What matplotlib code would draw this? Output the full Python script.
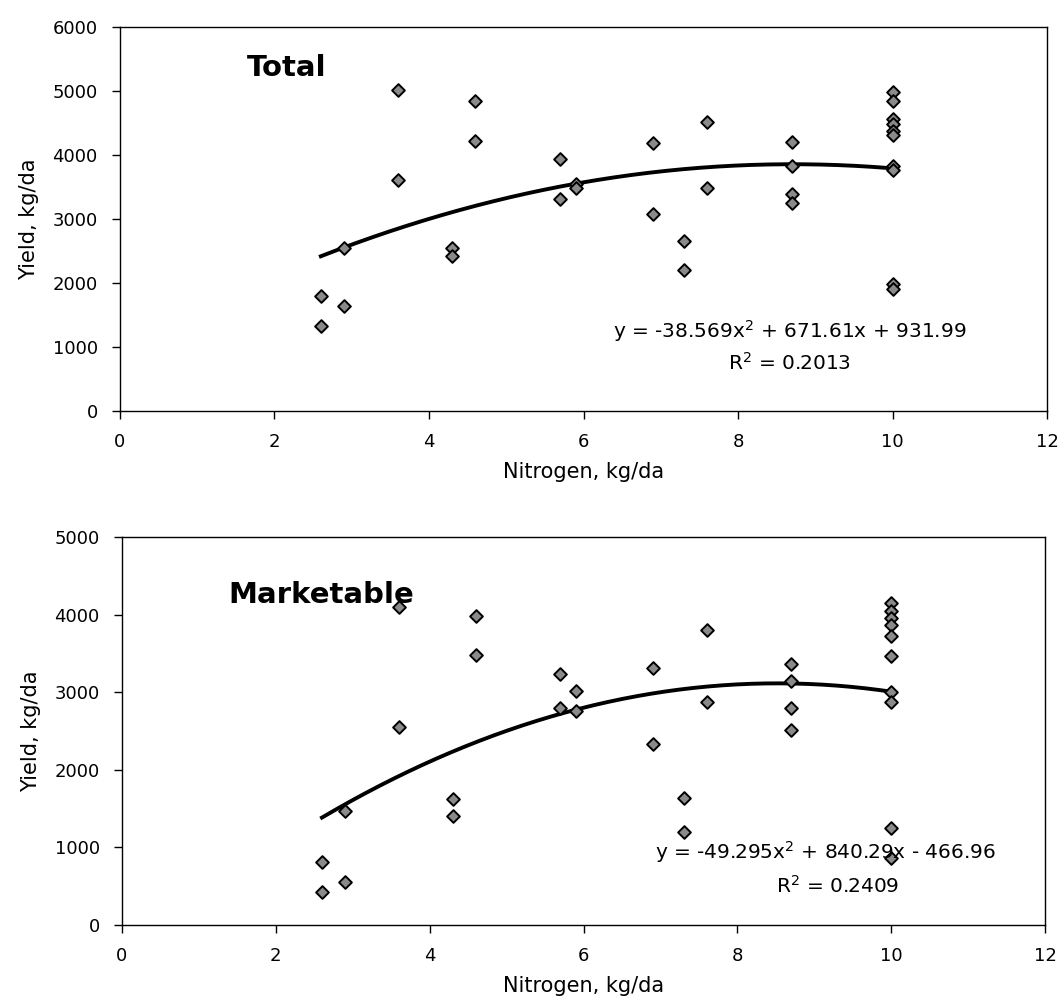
import numpy as np
import matplotlib.pyplot as plt

# nitrogen rate (kg/da) and yield (kg/da)
total_x = [2.6, 2.6, 2.9, 2.9, 3.6, 3.6, 4.3, 4.3, 4.6, 4.6, 5.7, 5.7, 5.9, 5.9,
           6.9, 6.9, 7.3, 7.3, 7.6, 7.6, 8.7, 8.7, 8.7, 8.7,
           10, 10, 10, 10, 10, 10, 10, 10, 10, 10]
total_y = [1800, 1330, 2550, 1640, 5020, 3610, 2540, 2420, 4840, 4220, 3930, 3320, 3550, 3480,
           4180, 3080, 2650, 2200, 4520, 3480, 4210, 3830, 3390, 3250,
           4980, 4850, 4560, 4480, 4380, 4320, 3830, 3760, 1980, 1900]

market_x = total_x
market_y = [810, 420, 1470, 560, 4100, 2550, 1630, 1410, 3980, 3480, 3240, 2800, 3020, 2760,
            3310, 2330, 1640, 1200, 3800, 2870, 3360, 3150, 2790, 2510,
            4150, 4050, 3950, 3870, 3720, 3460, 3000, 2880, 1250, 870]

# trendline coefficients as printed on the chart
total_coef = [-38.569, 671.61, 931.99]
market_coef = [-49.295, 840.29, -466.96]

panels = [
    dict(x=total_x, y=total_y, coef=total_coef, ymax=6000, title="Total",
         title_pos=(1.64, 5360),
         eq="y = -38.569x$^{2}$ + 671.61x + 931.99", eq_pos=(8.67, 1250),
         r2="R$^{2}$ = 0.2013", r2_pos=(8.67, 750),
         rect=[0.1133, 0.5923, 0.8754, 0.3809]),
    dict(x=market_x, y=market_y, coef=market_coef, ymax=5000, title="Marketable",
         title_pos=(1.38, 4250),
         eq="y = -49.295x$^{2}$ + 840.29x - 466.96", eq_pos=(9.14, 940),
         r2="R$^{2}$ = 0.2409", r2_pos=(9.3, 500),
         rect=[0.1152, 0.0823, 0.8716, 0.3850]),
]

fig = plt.figure(figsize=(10.59, 10.08), dpi=100)

for p in panels:
    ax = fig.add_axes(p["rect"])
    xs = np.linspace(min(p["x"]), max(p["x"]), 200)
    ax.plot(xs, np.polyval(p["coef"], xs), color="black", lw=2.8, zorder=2)
    ax.scatter(p["x"], p["y"], marker="D", s=42, facecolor="#8a8a8a",
               edgecolor="black", linewidths=1.4, zorder=3)

    ax.set_xlim(0, 12)
    ax.set_ylim(0, p["ymax"])
    ax.set_xticks(range(0, 13, 2))
    ax.set_yticks(range(0, p["ymax"] + 1, 1000))
    ax.tick_params(direction="out", length=6, width=1, labelsize=13, pad=10)
    for s in ax.spines.values():
        s.set_linewidth(1.0)

    ax.set_xlabel("Nitrogen, kg/da", fontsize=15, labelpad=8)
    ax.set_ylabel("Yield, kg/da", fontsize=15, labelpad=10)

    ax.text(*p["title_pos"], p["title"], fontsize=21, fontweight="bold", va="center", ha="left")
    ax.text(*p["eq_pos"], p["eq"], fontsize=14.5, ha="center", va="center")
    ax.text(*p["r2_pos"], p["r2"], fontsize=14.5, ha="center", va="center")

fig.savefig("out.png", dpi=100)
